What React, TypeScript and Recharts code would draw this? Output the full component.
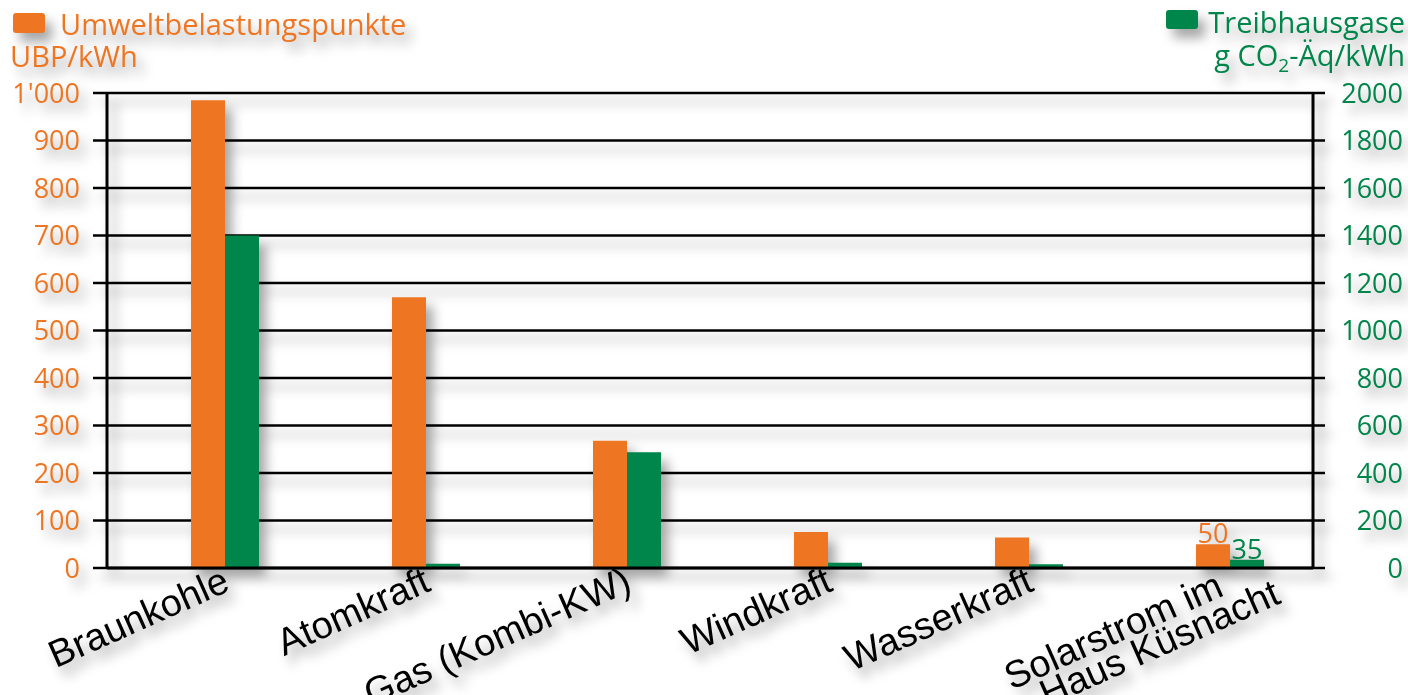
import React from 'react';
import { BarChart, Bar, XAxis, YAxis, CartesianGrid, LabelList } from 'recharts';

const categories = ['Braunkohle', 'Atomkraft', 'Gas (Kombi-KW)', 'Windkraft', 'Wasserkraft', 'Solarstrom im\nHaus Küsnacht'];
const ubpValues = [985, 570, 268, 76, 64, 50];
const co2Values = [1400, 18, 487, 22, 16, 35];
const ubpLabels = [null, null, null, null, null, '50'];
const co2Labels = [null, null, null, null, null, '35'];
const ubpTicks = [0, 100, 200, 300, 400, 500, 600, 700, 800, 900, 1000];
const co2Ticks = [0, 200, 400, 600, 800, 1000, 1200, 1400, 1600, 1800, 2000];
const edgeTicks = [0, 1, 2, 3, 4, 5, 6];

const ORANGE = '#EE7623';
const GREEN = '#00854A';
const FONT = '"Open Sans", sans-serif';

const data = categories.map((name, i) => ({
  name,
  ubp: ubpValues[i],
  co2: co2Values[i],
  ubpLabel: ubpLabels[i],
  co2Label: co2Labels[i],
}));

const fmtUbp = (v: number) => (v === 1000 ? "1'000" : String(v));

const LeftTick = (props: any) => {
  const { x, y, payload } = props;
  return (
    <text x={x} y={y} dy="0.36em" textAnchor="end" fontFamily={FONT} fontSize={27} fill={ORANGE}>
      {fmtUbp(payload.value)}
    </text>
  );
};

const RightTick = (props: any) => {
  const { x, y, payload } = props;
  return (
    <text x={x} y={y} dy="0.36em" textAnchor="end" fontFamily={FONT} fontSize={27} fill={GREEN}>
      {payload.value}
    </text>
  );
};

const CatTick = (props: any) => {
  const { x, y, payload } = props;
  const lines = String(payload.value).split('\n');
  const shift = (lines.length - 1) * 12;
  return (
    <g transform={`translate(${x + 24},${y + 22}) rotate(-24)`}>
      {lines.map((l, i) => (
        <text key={i} x={i * 49 - shift} y={i * 30} textAnchor="end" fontFamily='"Liberation Sans", Arial, sans-serif' fontSize={38} fill="#000">
          {l}
        </text>
      ))}
    </g>
  );
};

export default function App() {
  return (
    <div style={{ position: 'absolute', left: 0, top: 0, width: 1408, height: 695, background: '#fff' }}>
      <div style={{ position: 'absolute', left: 0, top: 0, width: 1408, height: 695, filter: 'drop-shadow(7px 9px 6px rgba(0,0,0,0.35))' }}>
        <BarChart
          width={1408}
          height={695}
          data={data}
          margin={{ top: 93, right: 0, bottom: 0, left: 0 }}
          barSize={34}
          barGap={0}
        >
          <CartesianGrid xAxisId="cat" yAxisId="l" vertical={false} stroke="#000" strokeWidth={2.5} />
          <XAxis
            xAxisId="edge"
            type="number"
            domain={[0, 6]}
            ticks={edgeTicks}
            allowDataOverflow
            height={0}
            tick={false}
            axisLine={false}
            tickSize={12}
            tickLine={{ stroke: '#000', strokeWidth: 2.5 }}
          />
          <XAxis
            xAxisId="cat"
            dataKey="name"
            height={127}
            interval={0}
            tickSize={0}
            tickMargin={0}
            tickLine={false}
            axisLine={{ stroke: '#000', strokeWidth: 3 }}
            tick={<CatTick />}
          />
          <YAxis
            yAxisId="l"
            orientation="left"
            width={107}
            domain={[0, 1000]}
            ticks={ubpTicks}
            tickSize={14}
            tickMargin={13}
            axisLine={{ stroke: '#000', strokeWidth: 3 }}
            tickLine={{ stroke: '#000', strokeWidth: 2.5 }}
            tick={<LeftTick />}
          />
          <YAxis
            yAxisId="r"
            orientation="right"
            width={95}
            domain={[0, 2000]}
            ticks={co2Ticks}
            tickSize={12}
            tickMargin={78}
            axisLine={{ stroke: '#000', strokeWidth: 3 }}
            tickLine={{ stroke: '#000', strokeWidth: 2.5 }}
            tick={<RightTick />}
          />
          <Bar xAxisId="cat" yAxisId="l" dataKey="spacer" fill="none" isAnimationActive={false} />
          <Bar xAxisId="cat" yAxisId="l" dataKey="ubp" fill={ORANGE} isAnimationActive={false}>
            <LabelList dataKey="ubpLabel" position="top" offset={1} fill={ORANGE} fontFamily={FONT} fontSize={27} />
          </Bar>
          <Bar xAxisId="cat" yAxisId="r" dataKey="co2" fill={GREEN} isAnimationActive={false}>
            <LabelList dataKey="co2Label" position="top" offset={1} fill={GREEN} fontFamily={FONT} fontSize={27} />
          </Bar>
        </BarChart>
        <svg width={1408} height={90} style={{ position: 'absolute', left: 0, top: 0 }}>
          <rect x={13} y={13} width={32} height={20} rx={3} fill={ORANGE} />
          <text x={60} y={35} fontFamily={FONT} fontSize={29} fill={ORANGE}>Umweltbelastungspunkte</text>
          <text x={10} y={67} fontFamily={FONT} fontSize={29} fill={ORANGE}>UBP/kWh</text>
          <rect x={1166} y={10} width={32} height={19} rx={3} fill={GREEN} />
          <text x={1405} y={33} textAnchor="end" fontFamily={FONT} fontSize={29} fill={GREEN}>Treibhausgase</text>
          <text x={1405} y={66} textAnchor="end" fontFamily={FONT} fontSize={29} fill={GREEN}>
            g CO<tspan fontSize={19} dy={6}>2</tspan><tspan dy={-6}>-Äq/kWh</tspan>
          </text>
        </svg>
      </div>
    </div>
  );
}
